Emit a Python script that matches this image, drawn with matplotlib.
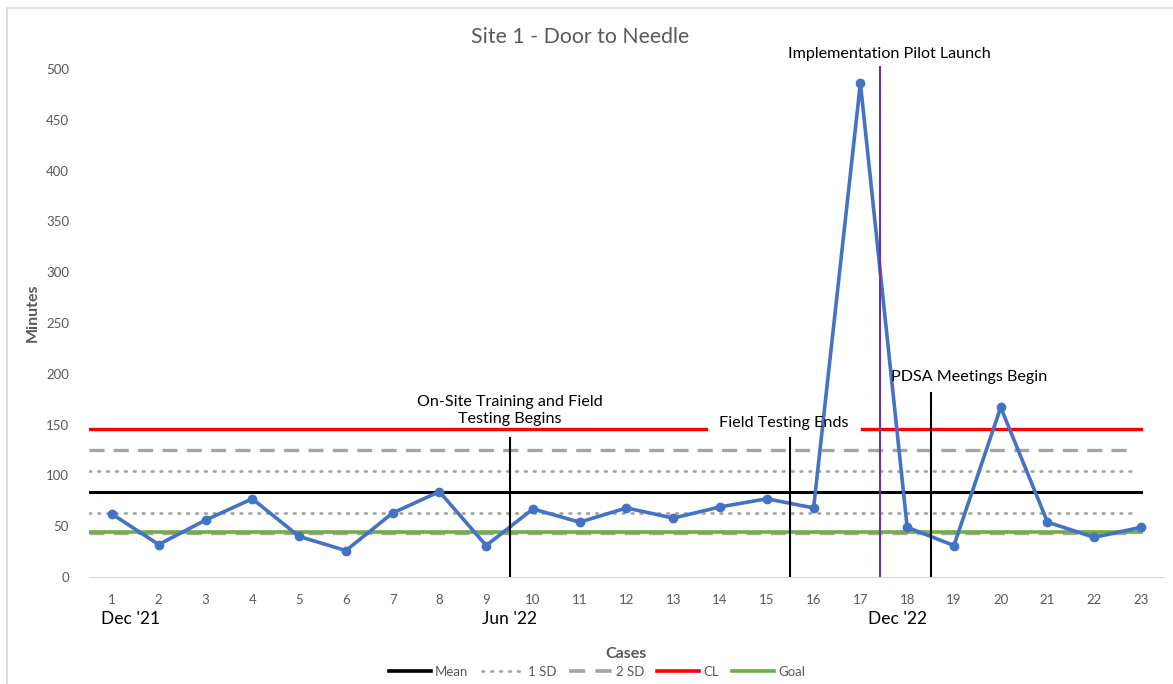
import numpy as np
import matplotlib.pyplot as plt
from matplotlib.lines import Line2D
from matplotlib.patches import Rectangle

plt.rcParams['font.family'] = ['Lato', 'DejaVu Sans']

# data
cases = list(range(1, 24))
minutes = [62, 32, 56, 77, 40, 26, 63, 84, 31, 67, 54, 68, 58, 69, 77, 68,
           486, 49, 31, 167, 54, 39, 49]
mean_val = 84
sd1_upper, sd1_lower = 104.5, 63
sd2_upper, sd2_lower = 125, 43
cl_val = 145.5
goal_val = 44.5

# events: (x position, top of line, colour)
event_x = [9.5, 15.5, 17.42, 18.5]
event_top = [137, 137, 502, 181]
event_col = ['black', 'black', '#7030A0', 'black']

date_pos = [1.4, 9.5, 17.8]
date_labels = ["Dec '21", "Jun '22", "Dec '22"]

fig = plt.figure(figsize=(11.73, 6.84), dpi=100)
ax = fig.add_axes([0.0755, 0.1564, 0.9172, 0.7724])

# outer chart frame
fig.patches.append(Rectangle((7 / 1173, -0.05), 1.1, (684 - 8) / 684 + 0.05,
                             transform=fig.transFigure, fill=False,
                             edgecolor='#D9D9D9', lw=1.2))

x0, x1 = 0.5, 23.0
grey = '#A5A5A5'
ax.plot([x0, x1 - 0.15], [sd1_upper] * 2, color=grey, lw=2, ls=(0, (0.6, 2.6)), dash_capstyle='round')
ax.plot([x0, x1 - 0.15], [sd1_lower] * 2, color=grey, lw=2, ls=(0, (0.6, 2.6)), dash_capstyle='round')
ax.plot([x0, x1 - 0.2], [sd2_upper] * 2, color=grey, lw=2.4, ls=(0, (4.5, 2.8)))
ax.plot([x0, x1 - 0.2], [sd2_lower] * 2, color=grey, lw=2.4, ls=(0, (4.5, 2.8)))
ax.plot([x0, x1], [mean_val] * 2, color='black', lw=2.2)
ax.plot([x0, 13.7], [cl_val] * 2, color='#FF0000', lw=2.4)
ax.plot([17.04, x1], [cl_val] * 2, color='#FF0000', lw=2.4)
ax.plot([x0, x1], [goal_val] * 2, color='#70AD47', lw=2.6)

ax.plot(cases, minutes, color='#4472C4', lw=2.6, marker='o', markersize=6)

for xv, top, c in zip(event_x, event_top, event_col):
    ax.plot([xv, xv], [0, top], color=c, lw=1.5)

ax.text(9.5, 164, 'On-Site Training and Field\nTesting Begins', ha='center', va='center',
        fontsize=11.6, linespacing=1.25)
ax.text(15.37, 151.5, 'Field Testing Ends', ha='center', va='center', fontsize=11.6)
ax.text(17.61, 515, 'Implementation Pilot Launch', ha='center', va='center', fontsize=11.6)
ax.text(19.32, 197, 'PDSA Meetings Begin', ha='center', va='center', fontsize=11.6)

fig.text(0.4945, (684 - 37) / 684, 'Site 1 - Door to Needle', fontsize=15.3, color='#595959',
         ha='center', va='center')

ax.set_xlim(0.5, 23.5)
ax.set_ylim(0, 520)
ax.set_xticks(cases)
ax.set_yticks(np.arange(0, 501, 50))
ax.tick_params(length=0, labelsize=9.5, labelcolor='#595959', pad=12)
ax.tick_params(axis='y', pad=14)
for s in ['top', 'right', 'left']:
    ax.spines[s].set_visible(False)
ax.spines['bottom'].set_color('#D9D9D9')

for xp, lab in zip(date_pos, date_labels):
    ax.text(xp, -41, lab, ha='center', va='center', fontsize=12.5)

ax.set_xlabel('Cases', fontsize=11.5, fontweight='bold', color='#595959', labelpad=30)
ax.set_ylabel('Minutes', fontsize=11.5, fontweight='bold', color='#595959')
ax.yaxis.set_label_coords((40 - 88.6) / 1076, 0.5)

handles = [Line2D([], [], color='black', lw=2.6),
           Line2D([], [], color=grey, lw=2, ls=(0, (0.6, 2.6)), dash_capstyle='round'),
           Line2D([], [], color=grey, lw=2.6, ls=(0, (4.5, 2.8))),
           Line2D([], [], color='#FF0000', lw=2.6),
           Line2D([], [], color='#70AD47', lw=2.6)]
fig.legend(handles, ['Mean', '1 SD', '2 SD', 'CL', 'Goal'], loc='center',
           bbox_to_anchor=(0.509, 0.018), ncol=5, frameon=False, fontsize=9.5,
           handlelength=3.2, handletextpad=0.3, columnspacing=1.0, labelcolor='#595959')

fig.savefig('out.png', dpi=100)
